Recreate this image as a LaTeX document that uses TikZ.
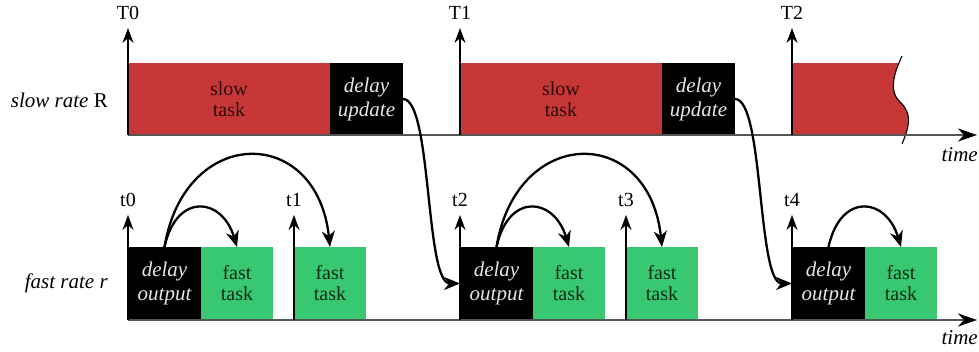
\documentclass[tikz,border=0pt]{standalone}
\usepackage{fontspec}
\setmainfont{Liberation Serif}
\usetikzlibrary{arrows.meta,positioning}
\definecolor{slowred}{HTML}{C83737}
\definecolor{fastgreen}{HTML}{37C871}
\definecolor{axisgrey}{HTML}{555555}
\definecolor{delaytext}{HTML}{E6E6E6}
\definecolor{slowtext}{HTML}{2B0B0B}
\definecolor{fasttext}{HTML}{0B2B16}

\begin{document}
\begin{tikzpicture}[
  x=1pt, y=-1pt,
  font=\fontsize{20}{21}\selectfont,
  task/.style={inner sep=0pt, outer sep=0pt, align=center, minimum height=73pt},
  slowbox/.style={task, fill=slowred, text=slowtext, minimum width=202pt, minimum height=72pt},
  fastbox/.style={task, fill=fastgreen, text=fasttext, minimum width=72pt},
  delaybox/.style={task, fill=black, text=delaytext, minimum width=73pt,
                   font=\fontsize{21}{24}\selectfont\itshape},
  ticklab/.style={anchor=south, inner xsep=1pt, inner ysep=8pt},
  ratelab/.style={anchor=east, inner sep=0pt, font=\fontsize{21}{24}\selectfont},
  timelab/.style={anchor=east, inner sep=1pt, font=\fontsize{21}{24}\selectfont\itshape},
  tickarr/.style={line width=1.5pt, -{Stealth[length=15pt, width=11pt, inset=5pt]}},
  axis/.style={draw=axisgrey, line width=1.8pt, -{Stealth[length=19pt, width=13pt, inset=6pt, color=black]}},
  flow/.style={line width=2.3pt, -{Stealth[length=16pt, width=13pt, inset=5pt]}}
]
\useasboundingbox (0,0) rectangle (979,352);

% slow rate row
\node[slowbox, anchor=south west] (slow0) at (128,135) {slow\\task};
\node[delaybox, minimum height=72pt, right=0pt of slow0] (upd0) {delay\\update};
\node[slowbox, anchor=south west] (slow1) at (460,135) {slow\\task};
\node[delaybox, minimum height=72pt, right=0pt of slow1] (upd1) {delay\\update};

\begin{scope}
  \clip (780,40) -- (902,40) -- (902,56) .. controls (893,75) and (889,92) .. (900,102)
        .. controls (912,113) and (910,125) .. (902,144) -- (902,160) -- (780,160) -- cycle;
  \node[slowbox, minimum width=140pt, anchor=south west] (slow2) at (792,135) {};
\end{scope}
\draw[line width=1.1pt] (902,56) .. controls (893,75) and (889,92) .. (900,102)
      .. controls (912,113) and (910,125) .. (902,144);

% fast rate row
\node[delaybox, anchor=south west] (out0) at (128,320) {delay\\output};
\node[fastbox, right=0pt of out0] (fast0) {fast\\task};
\node[fastbox, anchor=south west] (fast1) at (294,320) {fast\\task};
\node[delaybox, anchor=south west] (out1) at (460,320) {delay\\output};
\node[fastbox, right=0pt of out1] (fast2) {fast\\task};
\node[fastbox, anchor=south west] (fast3) at (626,320) {fast\\task};
\node[delaybox, anchor=south west] (out2) at (792,320) {delay\\output};
\node[fastbox, right=0pt of out2] (fast4) {fast\\task};

% time axes
\coordinate (slowend) at (977,135);
\coordinate (fastend) at (977,320);
\draw[axis] (slow0.south west) -- (slowend);
\draw[axis] (out0.south west) -- (fastend);

\node[ratelab] (slowrate) at (108,100) {\textit{slow rate} R};
\node[ratelab] (fastrate) at (108,283) {\textit{fast rate r}};
\node[timelab] (slowtime) at (979,155) {time};
\node[timelab] (fasttime) at (979,338) {time};

% release instants
\node[ticklab] (T0) at (128,28) {T0};
\node[ticklab] (T1) at (460,28) {T1};
\node[ticklab] (T2) at (792,28) {T2};
\node[ticklab] (t0) at (128,215) {t0};
\node[ticklab] (t1) at (294,215) {t1};
\node[ticklab] (t2) at (460,215) {t2};
\node[ticklab] (t3) at (626,215) {t3};
\node[ticklab] (t4) at (792,215) {t4};

\draw[tickarr] (slow0.south west) -- (T0.south);
\draw[tickarr] (slow1.south west) -- (T1.south);
\draw[tickarr] (slow2.south west) -- (T2.south);
\draw[tickarr] (out0.south west) -- (t0.south);
\draw[tickarr] (fast1.south west) -- (t1.south);
\draw[tickarr] (out1.south west) -- (t2.south);
\draw[tickarr] (fast3.south west) -- (t3.south);
\draw[tickarr] (out2.south west) -- (t4.south);

% data flow
\draw[flow] (out0.north) .. controls +(12,-55) and +(-15,-50) .. (fast0.north);
\draw[flow] (out0.north) .. controls +(20,-122) and +(-13,-123) .. (fast1.north);
\draw[flow] (out1.north) .. controls +(12,-55) and +(-15,-50) .. (fast2.north);
\draw[flow] (out1.north) .. controls +(20,-122) and +(-13,-123) .. (fast3.north);
\draw[flow] (out2.north) .. controls +(12,-55) and +(-15,-50) .. (fast4.north);
\draw[flow] (upd0.east) .. controls +(29,0) and +(-35,0) .. (out1.west);
\draw[flow] (upd1.east) .. controls +(29,0) and +(-35,0) .. (out2.west);
\end{tikzpicture}
\end{document}
